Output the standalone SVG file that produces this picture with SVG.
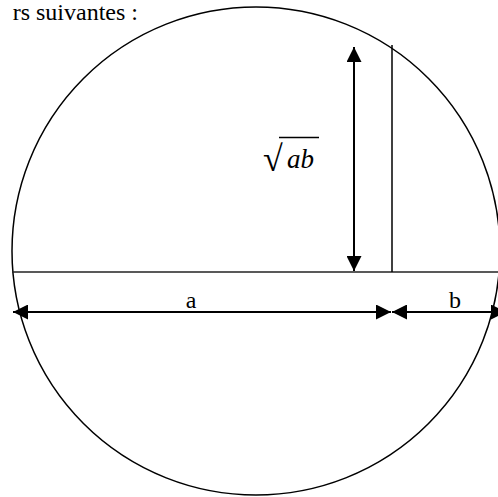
<svg xmlns="http://www.w3.org/2000/svg" width="498" height="497" viewBox="0 0 498 497">
  <style>
    .t { font-family: "Liberation Serif", "Times New Roman", serif; fill: #000; }
    .geo { fill: none; stroke: #000; stroke-width: 1.5; }
    .arr { fill: none; stroke: #000; stroke-width: 2; }
  </style>
  <defs>
    <marker id="ah" viewBox="0 0 15 15" refX="15" refY="7.5" markerWidth="15" markerHeight="15" markerUnits="userSpaceOnUse" orient="auto-start-reverse">
      <path d="M0,0 L15,7.5 L0,15 Z" fill="#000"/>
    </marker>
  </defs>
  <rect width="498" height="497" fill="#fff"/>
  <text class="t" x="138" y="20" font-size="24" text-anchor="end">rs suivantes :</text>
  <g id="circle">
    <circle class="geo" cx="256" cy="251" r="244"/>
  </g>
  <g id="lines">
    <line x1="12" y1="272" x2="498" y2="272" stroke="#222" stroke-width="1.6"/>
    <line class="geo" x1="392" y1="45" x2="392" y2="272"/>
  </g>
  <g id="connectors">
    <line class="arr" x1="354" y1="47" x2="354" y2="271" marker-start="url(#ah)" marker-end="url(#ah)"/>
    <line class="arr" x1="13" y1="312" x2="391" y2="312" marker-start="url(#ah)" marker-end="url(#ah)"/>
    <line class="arr" x1="392" y1="312" x2="506" y2="312" marker-start="url(#ah)" marker-end="url(#ah)"/>
  </g>
  <g id="labels">
    <text class="t" x="263" y="171" font-size="36">√</text>
    <line x1="279" y1="137.5" x2="319" y2="137.5" stroke="#000" stroke-width="1.5"/>
    <text class="t" x="287" y="168" font-size="27" font-style="italic">ab</text>
    <text class="t" x="191" y="308" font-size="24" text-anchor="middle">a</text>
    <text class="t" x="455" y="308" font-size="24" text-anchor="middle">b</text>
  </g>
</svg>
